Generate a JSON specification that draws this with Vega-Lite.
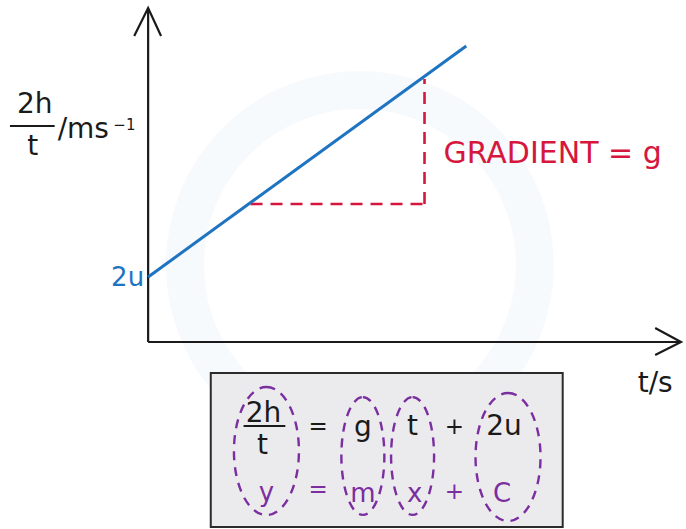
{
  "$schema": "https://vega.github.io/schema/vega-lite/v6.json",
  "width": 686,
  "height": 529,
  "padding": 0,
  "autosize": {"type": "fit", "contains": "padding"},
  "background": "#ffffff",
  "config": {"view": {"stroke": null}},
  "datasets": {
    "emblem": [
      {"x": 21.3, "y": 7.7}
    ],
    "axes": [
      {"name": "vertical", "x": 0, "y": 0, "x2": 0, "y2": 33.3},
      {"name": "horizontal", "x": 0, "y": 0, "x2": 53.5, "y2": 0}
    ],
    "heads": [
      {"head": "up", "o": 1, "x": -1.4, "y": 30.6},
      {"head": "up", "o": 2, "x": 0, "y": 33.4},
      {"head": "up", "o": 3, "x": 1.3, "y": 30.6},
      {"head": "right", "o": 1, "x": 51.0, "y": 1.4},
      {"head": "right", "o": 2, "x": 53.6, "y": 0},
      {"head": "right", "o": 3, "x": 51.0, "y": -1.3}
    ],
    "fit": [
      {"t": 0, "v": 6.5},
      {"t": 32.0, "v": 29.6}
    ],
    "triangle": [
      {"side": "run", "x": 10.3, "y": 13.8, "x2": 27.8, "y2": 13.8},
      {"side": "rise", "x": 27.8, "y": 13.8, "x2": 27.8, "y2": 26.3}
    ],
    "fraction": [
      {"where": "axis", "x": -13.9, "x2": -9.4, "y": 21.6},
      {"where": "box", "x": 9.6, "x2": 13.8, "y": -8.4}
    ],
    "box": [
      {"x": 6.3, "x2": 41.7, "y": -3.1, "y2": -18.5}
    ],
    "wideRings": [
      {"x": 11.9, "y": -10.9},
      {"x": 36.2, "y": -11.5}
    ],
    "narrowRings": [
      {"x": 21.6, "y": -11.4},
      {"x": 26.6, "y": -11.4}
    ],
    "blackText": [
      {"label": "2h", "x": -11.4, "y": 22.9},
      {"label": "t", "x": -11.6, "y": 18.7},
      {"label": "t/s", "x": 51.0, "y": -5.0},
      {"label": "2h", "x": 11.6, "y": -8.0},
      {"label": "t", "x": 11.5, "y": -11.2},
      {"label": "g", "x": 21.6, "y": -9.4},
      {"label": "t", "x": 26.6, "y": -9.3},
      {"label": "2u", "x": 35.8, "y": -9.3}
    ],
    "unitText": [
      {"label": "/ms", "x": -9.1, "y": 20.4}
    ],
    "supText": [
      {"label": "−1", "x": -3.5, "y": 21.2}
    ],
    "blackSigns": [
      {"label": "=", "x": 17.1, "y": -8.5},
      {"label": "+", "x": 30.8, "y": -8.5}
    ],
    "purpleSigns": [
      {"label": "=", "x": 17.1, "y": -14.8},
      {"label": "+", "x": 30.8, "y": -15.0}
    ],
    "purpleText": [
      {"label": "y", "x": 11.9, "y": -15.9},
      {"label": "m", "x": 21.6, "y": -16.0},
      {"label": "x", "x": 26.8, "y": -16.0},
      {"label": "C", "x": 35.6, "y": -16.0}
    ],
    "blueText": [
      {"label": "2u", "x": -0.4, "y": 5.6}
    ],
    "redText": [
      {"label": "GRADIENT = g", "x": 29.7, "y": 17.9}
    ]
  },
  "layer": [
    {
      "data": {"name": "emblem"},
      "mark": {"type": "point", "shape": "circle", "size": 122500, "filled": false, "stroke": "#f7fafd", "strokeWidth": 38, "opacity": 1},
      "encoding": {
        "x": {"field": "x", "type": "quantitative", "scale": {"domain": [-14.9, 53.7], "nice": false, "zero": false}, "axis": null},
        "y": {"field": "y", "type": "quantitative", "scale": {"domain": [-18.7, 34.2], "nice": false, "zero": false}, "axis": null}
      }
    },
    {
      "data": {"name": "box"},
      "mark": {"type": "rect", "fill": "#ebebee", "stroke": "#2b2b2b", "strokeWidth": 2},
      "encoding": {
        "x": {"field": "x", "type": "quantitative"},
        "x2": {"field": "x2"},
        "y": {"field": "y", "type": "quantitative"},
        "y2": {"field": "y2"}
      }
    },
    {
      "data": {"name": "axes"},
      "mark": {"type": "rule", "color": "#1a1a1a", "strokeWidth": 2.2},
      "encoding": {
        "x": {"field": "x", "type": "quantitative"},
        "x2": {"field": "x2"},
        "y": {"field": "y", "type": "quantitative"},
        "y2": {"field": "y2"}
      }
    },
    {
      "data": {"name": "heads"},
      "mark": {"type": "line", "color": "#1a1a1a", "strokeWidth": 2.2, "strokeJoin": "miter"},
      "encoding": {
        "x": {"field": "x", "type": "quantitative"},
        "y": {"field": "y", "type": "quantitative"},
        "detail": {"field": "head"},
        "order": {"field": "o"}
      }
    },
    {
      "data": {"name": "triangle"},
      "mark": {"type": "rule", "color": "#d6173d", "strokeWidth": 2.6, "strokeDash": [12, 8]},
      "encoding": {
        "x": {"field": "x", "type": "quantitative"},
        "x2": {"field": "x2"},
        "y": {"field": "y", "type": "quantitative"},
        "y2": {"field": "y2"}
      }
    },
    {
      "data": {"name": "fit"},
      "mark": {"type": "line", "color": "#1f74c2", "strokeWidth": 3},
      "encoding": {
        "x": {"field": "t", "type": "quantitative"},
        "y": {"field": "v", "type": "quantitative"}
      }
    },
    {
      "data": {"name": "fraction"},
      "mark": {"type": "rule", "color": "#1a1a1a", "strokeWidth": 2},
      "encoding": {
        "x": {"field": "x", "type": "quantitative"},
        "x2": {"field": "x2"},
        "y": {"field": "y", "type": "quantitative"}
      }
    },
    {
      "data": {"name": "wideRings"},
      "mark": {"type": "point", "shape": "M0,-1.97A1,1.97,0,1,1,0,1.97A1,1.97,0,1,1,0,-1.97Z", "size": 4225, "filled": false, "stroke": "#7b2e9f", "strokeWidth": 2.4, "strokeDash": [9, 7], "opacity": 1},
      "encoding": {
        "x": {"field": "x", "type": "quantitative"},
        "y": {"field": "y", "type": "quantitative"}
      }
    },
    {
      "data": {"name": "narrowRings"},
      "mark": {"type": "point", "shape": "M0,-2.74A1,2.74,0,1,1,0,2.74A1,2.74,0,1,1,0,-2.74Z", "size": 1849, "filled": false, "stroke": "#7b2e9f", "strokeWidth": 2.4, "strokeDash": [9, 7], "opacity": 1},
      "encoding": {
        "x": {"field": "x", "type": "quantitative"},
        "y": {"field": "y", "type": "quantitative"}
      }
    },
    {
      "data": {"name": "blackText"},
      "mark": {"type": "text", "font": "DejaVu Sans", "fontSize": 28, "color": "#1a1a1a", "align": "center", "baseline": "alphabetic"},
      "encoding": {
        "x": {"field": "x", "type": "quantitative"},
        "y": {"field": "y", "type": "quantitative"},
        "text": {"field": "label"}
      }
    },
    {
      "data": {"name": "unitText"},
      "mark": {"type": "text", "font": "DejaVu Sans", "fontSize": 28, "color": "#1a1a1a", "align": "left", "baseline": "alphabetic"},
      "encoding": {
        "x": {"field": "x", "type": "quantitative"},
        "y": {"field": "y", "type": "quantitative"},
        "text": {"field": "label"}
      }
    },
    {
      "data": {"name": "supText"},
      "mark": {"type": "text", "font": "DejaVu Sans", "fontSize": 15, "color": "#1a1a1a", "align": "left", "baseline": "alphabetic"},
      "encoding": {
        "x": {"field": "x", "type": "quantitative"},
        "y": {"field": "y", "type": "quantitative"},
        "text": {"field": "label"}
      }
    },
    {
      "data": {"name": "blackSigns"},
      "mark": {"type": "text", "font": "DejaVu Sans", "fontSize": 23, "color": "#1a1a1a", "align": "center", "baseline": "middle"},
      "encoding": {
        "x": {"field": "x", "type": "quantitative"},
        "y": {"field": "y", "type": "quantitative"},
        "text": {"field": "label"}
      }
    },
    {
      "data": {"name": "purpleSigns"},
      "mark": {"type": "text", "font": "DejaVu Sans", "fontSize": 23, "color": "#7b2e9f", "align": "center", "baseline": "middle"},
      "encoding": {
        "x": {"field": "x", "type": "quantitative"},
        "y": {"field": "y", "type": "quantitative"},
        "text": {"field": "label"}
      }
    },
    {
      "data": {"name": "purpleText"},
      "mark": {"type": "text", "font": "DejaVu Sans", "fontSize": 26, "color": "#7b2e9f", "align": "center", "baseline": "alphabetic"},
      "encoding": {
        "x": {"field": "x", "type": "quantitative"},
        "y": {"field": "y", "type": "quantitative"},
        "text": {"field": "label"}
      }
    },
    {
      "data": {"name": "blueText"},
      "mark": {"type": "text", "font": "DejaVu Sans", "fontSize": 26, "color": "#1f74c2", "align": "right", "baseline": "alphabetic"},
      "encoding": {
        "x": {"field": "x", "type": "quantitative"},
        "y": {"field": "y", "type": "quantitative"},
        "text": {"field": "label"}
      }
    },
    {
      "data": {"name": "redText"},
      "mark": {"type": "text", "font": "DejaVu Sans", "fontSize": 30, "color": "#d6173d", "align": "left", "baseline": "alphabetic"},
      "encoding": {
        "x": {"field": "x", "type": "quantitative"},
        "y": {"field": "y", "type": "quantitative"},
        "text": {"field": "label"}
      }
    }
  ]
}
